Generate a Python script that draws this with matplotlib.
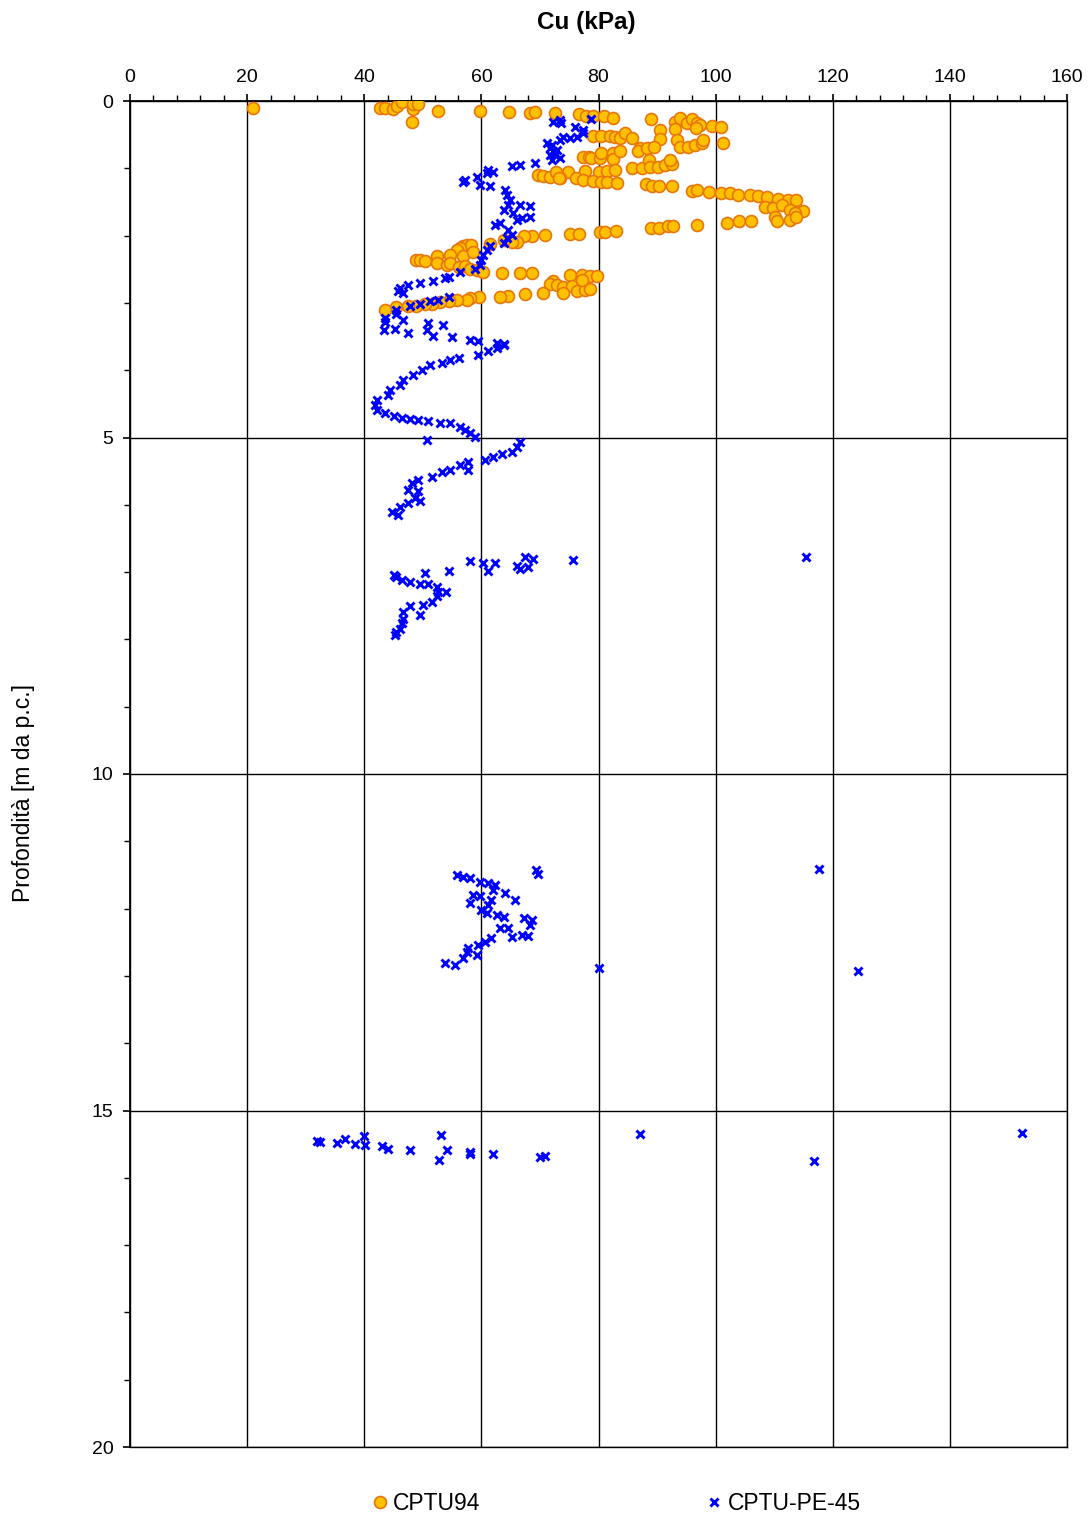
import matplotlib
matplotlib.use("Agg")
import matplotlib.pyplot as plt
from matplotlib.ticker import MultipleLocator
from matplotlib.lines import Line2D

plt.rcParams['font.family'] = ['Liberation Sans', 'DejaVu Sans']

# CPTU94 : (Cu kPa, depth m)
cptu94_cu = [
    21.0, 42.7, 43.5, 44.9, 45.6, 46.4, 48.3, 48.3, 49.1, 48.1, 52.6, 59.8, 64.7, 68.3, 69.2, 72.6, 76.7, 77.9, 79.1, 80.9, 82.4,
    88.9, 93.1, 93.9, 95.1, 95.9, 96.8, 97.3, 96.7, 99.3, 100.9, 93.1, 90.5,
    90.5, 93.4, 93.9, 95.3, 96.5, 97.6, 97.8, 101.2,
    79.1, 80.5, 82.0, 82.8, 83.6, 84.5, 85.7,
    87.1, 86.8, 88.3, 89.4,
    77.4, 78.3, 78.8, 80.3, 80.5, 82.5, 82.5, 83.7,
    85.7, 87.4, 88.7, 88.8, 90.2, 91.4, 92.5, 92.2,
    74.8, 77.7, 80.0, 81.4, 82.8,
    73.4, 76.2, 77.4, 79.0, 80.5, 81.4, 83.2,
    69.7, 70.6, 71.7, 72.7, 73.3,
    88.1, 89.1, 90.4, 92.5,
    95.9, 96.8, 98.8, 101.0, 102.5, 103.9, 105.9, 107.3, 108.7, 110.7, 112.4, 113.8,
    108.4, 109.8, 111.3, 112.7, 115.0, 113.6, 110.1, 110.4, 112.7, 113.8,
    75.1, 76.6, 80.3, 81.1, 83.0,
    88.9, 90.4, 91.8, 92.7,
    96.8, 101.9, 104.0, 106.0,
    70.9, 68.7, 67.2, 66.0, 65.2, 63.8, 61.5,
    56.9, 57.5, 58.3, 56.4, 55.8, 56.9, 58.6, 54.6, 52.4, 48.8, 49.5, 50.4, 52.4, 54.1, 54.6, 56.1, 57.2, 58.1, 59.2, 60.2, 63.6, 66.6, 68.6,
    75.1, 77.1, 78.6, 79.7, 72.3, 71.7, 72.9, 74.0, 75.4, 76.3, 77.7, 78.6, 77.1, 74.0,
    70.6, 67.5, 64.6, 63.2, 59.6, 58.1, 57.5, 55.8, 54.4, 52.9, 51.5, 50.4, 48.9, 47.5, 45.5, 43.5,
]
cptu94_depth = [
    0.10, 0.11, 0.10, 0.12, 0.07, 0.02, 0.12, 0.05, 0.04, 0.31, 0.15, 0.15, 0.17, 0.18, 0.17, 0.18, 0.20, 0.22, 0.23, 0.23, 0.26,
    0.27, 0.31, 0.25, 0.32, 0.27, 0.33, 0.36, 0.40, 0.37, 0.39, 0.41, 0.43,
    0.57, 0.58, 0.68, 0.68, 0.65, 0.63, 0.58, 0.63,
    0.52, 0.52, 0.52, 0.53, 0.55, 0.47, 0.55,
    0.70, 0.75, 0.70, 0.68,
    0.83, 0.83, 0.85, 0.85, 0.78, 0.78, 0.86, 0.75,
    0.99, 0.99, 0.88, 0.98, 0.98, 0.95, 0.93, 0.88,
    1.06, 1.04, 1.05, 1.04, 1.03,
    1.15, 1.15, 1.17, 1.19, 1.21, 1.21, 1.22,
    1.10, 1.11, 1.13, 1.05, 1.15,
    1.24, 1.26, 1.27, 1.27,
    1.34, 1.32, 1.35, 1.36, 1.37, 1.40, 1.40, 1.41, 1.42, 1.45, 1.47, 1.47,
    1.57, 1.59, 1.55, 1.62, 1.63, 1.67, 1.73, 1.78, 1.77, 1.73,
    1.98, 1.97, 1.94, 1.94, 1.93,
    1.88, 1.88, 1.86, 1.86,
    1.84, 1.81, 1.79, 1.78,
    1.99, 2.00, 2.00, 2.10, 2.09, 2.07, 2.12,
    2.15, 2.14, 2.14, 2.19, 2.21, 2.31, 2.24, 2.29, 2.31, 2.36, 2.36, 2.37, 2.40, 2.44, 2.41, 2.46, 2.45, 2.49, 2.51, 2.54, 2.55, 2.55, 2.56,
    2.58, 2.58, 2.60, 2.60, 2.68, 2.72, 2.73, 2.76, 2.75, 2.83, 2.81, 2.80, 2.66, 2.85,
    2.85, 2.87, 2.90, 2.91, 2.91, 2.93, 2.95, 2.96, 2.97, 2.98, 3.01, 3.01, 3.05, 3.05, 3.06, 3.11,
]

# CPTU-PE-45 : (Cu kPa, depth m)
pe45_depth = [
    0.31, 0.28, 0.33, 0.38, 0.43, 0.27, 0.48, 0.53, 0.55, 0.53, 0.58, 0.63, 0.65, 0.70, 0.75, 0.80, 0.88, 0.85, 0.73, 0.80,
    0.92, 0.95, 0.97, 1.05, 1.03, 1.07, 1.13, 1.17, 1.21, 1.25, 1.27,
    1.32, 1.40, 1.47, 1.55, 1.55, 1.56, 1.62, 1.67, 1.74, 1.72, 1.77, 1.84, 1.82, 1.92, 1.99, 2.04, 2.11,
    2.16, 2.21, 2.29, 2.36, 2.44, 2.49, 2.54, 2.61, 2.63, 2.67, 2.71, 2.73, 2.78, 2.83, 2.86,
    2.91, 2.96, 2.97, 3.01, 3.05, 3.10, 3.17, 3.23, 3.28, 3.40, 3.39, 3.26, 3.44,
    3.30, 3.40, 3.49, 3.33, 3.51, 3.55, 3.57, 3.59, 3.61, 3.77, 3.72, 3.67, 3.63,
    3.82, 3.85, 3.89, 3.92, 4.00, 4.07, 4.15, 4.22, 4.29, 4.37, 4.44, 4.52, 4.59, 4.64, 4.68, 4.71, 4.72, 4.74, 4.76, 4.78, 4.79, 4.84, 4.89, 4.94, 4.99, 5.03,
    5.06, 5.14, 5.21, 5.24, 5.29, 5.33, 5.36, 5.41, 5.48, 5.48, 5.52, 5.58, 5.63, 5.68, 5.78, 5.80, 5.90, 5.95, 5.98, 6.03, 6.10, 6.15,
    6.83, 6.86, 6.98, 6.87, 6.91, 6.96, 6.78, 6.92, 6.80, 6.82, 6.77,
    7.04, 7.07, 7.12, 7.14, 7.01, 7.17, 7.17, 6.99, 7.22, 7.29, 7.29, 7.36, 7.44, 7.49, 7.64, 7.51, 7.59, 7.69, 7.76, 7.84, 7.89, 7.94,
    11.50, 11.53, 11.55, 11.60, 11.62, 11.65, 11.72, 11.77, 11.87, 11.80, 11.82, 11.91, 11.87, 11.95, 12.02, 12.07, 12.10, 12.12, 12.14, 12.17,
    12.24, 12.29, 12.29, 12.42, 12.39, 12.41, 12.44, 12.49, 12.54, 12.59, 12.64, 12.69, 12.74, 12.84, 12.81, 11.43, 11.48, 11.41, 12.89, 12.93,
    15.45, 15.47, 15.48, 15.42, 15.50, 15.38, 15.51, 15.53, 15.57, 15.59, 15.73, 15.37, 15.59, 15.62, 15.65, 15.65, 15.69, 15.67, 15.35, 15.75, 15.34,
]
pe45_cu = [
    72.3, 73.4, 73.6, 76.0, 77.4, 78.8, 77.4, 76.3, 75.1, 74.0, 73.4, 71.2, 72.0, 71.7, 72.3, 71.7, 72.0, 73.4, 72.9, 72.6,
    69.2, 66.6, 65.2, 62.0, 61.2, 60.9, 59.2, 57.2, 56.9, 59.8, 61.5,
    64.0, 64.3, 64.9, 64.6, 66.6, 68.3, 63.8, 65.4, 66.9, 68.3, 66.0, 62.3, 63.2, 64.6, 65.2, 64.3, 63.8,
    61.5, 60.9, 60.3, 60.0, 59.8, 58.9, 56.4, 54.4, 53.8, 51.8, 49.5, 47.5, 46.1, 45.8, 46.7,
    54.4, 52.6, 51.2, 49.5, 47.8, 45.5, 45.5, 43.5, 43.5, 43.3, 45.3, 46.7, 47.5,
    50.9, 50.7, 51.8, 53.5, 54.9, 58.1, 59.5, 62.6, 63.8, 59.5, 61.2, 62.6, 63.8,
    56.1, 54.6, 53.2, 51.2, 49.8, 48.4, 46.7, 46.1, 44.4, 44.1, 42.1, 41.8, 42.1, 43.5, 45.0, 46.4, 47.8, 49.2, 50.9, 52.9, 54.6, 56.4, 57.2, 58.1, 58.9, 50.7,
    66.6, 66.0, 65.2, 63.5, 62.0, 60.6, 57.8, 56.4, 57.8, 54.6, 53.2, 51.5, 49.2, 48.1, 47.5, 49.2, 48.7, 49.5, 47.5, 46.1, 44.7, 45.8,
    58.1, 60.3, 61.2, 62.3, 66.0, 66.6, 67.5, 68.0, 68.8, 75.7, 115.4,
    45.0, 45.5, 46.4, 47.8, 50.4, 49.5, 50.9, 54.4, 52.4, 52.6, 54.0, 52.4, 51.5, 50.1, 49.5, 47.8, 46.7, 46.7, 46.4, 46.1, 45.5, 45.3,
    55.8, 56.9, 58.1, 59.8, 61.2, 62.3, 62.0, 64.0, 65.7, 58.5, 59.8, 58.1, 61.7, 61.2, 60.0, 60.9, 62.6, 63.8, 67.2, 68.6,
    68.3, 63.2, 64.6, 65.2, 66.9, 68.0, 61.7, 60.6, 59.5, 57.8, 57.5, 59.2, 56.9, 55.5, 53.8, 69.4, 69.7, 117.7, 80.1, 124.3,
    32.0, 32.4, 35.4, 36.7, 38.4, 39.9, 40.1, 43.1, 44.1, 47.8, 52.7, 53.1, 54.2, 58.1, 58.1, 61.9, 70.0, 70.9, 87.1, 116.8, 152.4,
]

series_labels = ["CPTU94", "CPTU-PE-45"]
x_title = "Cu (kPa)"
y_title = "Profondità [m da p.c.]"

orange_face = "#FFC000"
orange_edge = "#E8760A"
blue = "#0000FF"

fig = plt.figure(figsize=(10.89, 15.17), dpi=100)
ax = fig.add_axes([130/1089, 1 - 1447/1517, 937/1089, 1346/1517])

ax.plot(cptu94_cu, cptu94_depth, linestyle='none', marker='o', markersize=8.6,
        markerfacecolor=orange_face, markeredgecolor=orange_edge, markeredgewidth=1.2, zorder=3)
ax.plot(pe45_cu, pe45_depth, linestyle='none', marker='x', markersize=5.8,
        markeredgecolor=blue, markeredgewidth=2.1, zorder=4)

ax.set_xlim(0, 160)
ax.set_ylim(20, 0)
ax.xaxis.tick_top()
ax.xaxis.set_major_locator(MultipleLocator(20))
ax.xaxis.set_minor_locator(MultipleLocator(4))
ax.yaxis.set_major_locator(MultipleLocator(5))
ax.yaxis.set_minor_locator(MultipleLocator(1))
ax.grid(True, which='major', color='black', linewidth=1.0, zorder=1)
ax.set_axisbelow(True)
ax.tick_params(axis='both', which='major', labelsize=14, length=5, width=1.2, direction='out', colors='black')
ax.tick_params(axis='both', which='minor', length=4, width=1.0, direction='out')
ax.tick_params(axis='x', which='both', top=True, bottom=False, pad=6)
ax.tick_params(axis='y', which='both', pad=7)
for name, s in ax.spines.items():
    s.set_linewidth(1.3 if name in ('top', 'left') else 1.0)

fig.text(586/1089, 1 - 22/1517, x_title, ha='center', va='center', fontsize=17.5, fontweight='bold')
fig.text(24/1089, 1 - 793/1517, y_title, ha='center', va='center', rotation=90, fontsize=16.5)

handles = [
    Line2D([], [], linestyle='none', marker='o', markersize=8.6, markerfacecolor=orange_face,
           markeredgecolor=orange_edge, markeredgewidth=1.2),
    Line2D([], [], linestyle='none', marker='x', markersize=5.8, markeredgecolor=blue, markeredgewidth=2.1),
]
fig.legend(handles, series_labels, loc='center', bbox_to_anchor=(617/1089, 1 - 1504/1517), ncol=2,
           frameon=False, fontsize=16.5, handlelength=0.6, handletextpad=0.3, columnspacing=9.9)

fig.savefig("out.png", dpi=100)
